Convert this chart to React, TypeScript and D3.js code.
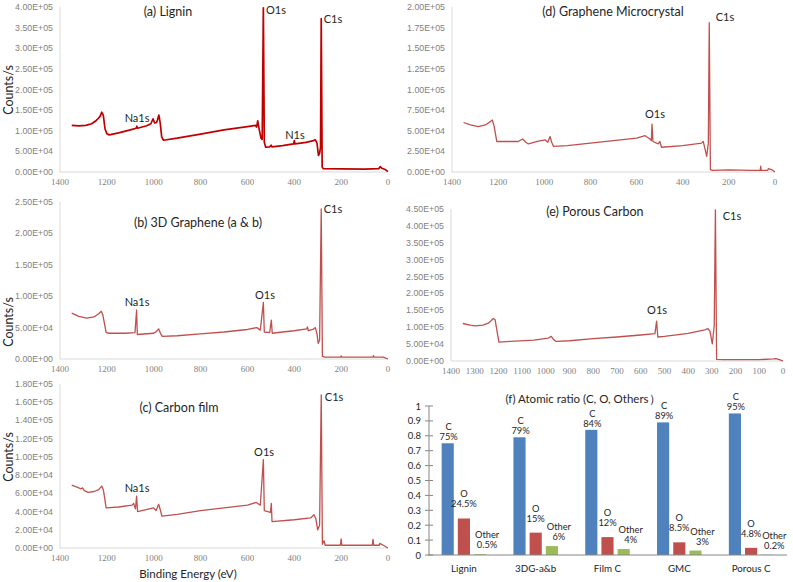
import React from 'react';
import * as d3 from 'd3';

type Pt = [number, number]; // [binding energy (eV), counts/s]

// ---- XPS survey spectra ----
const ligninSpectrum: Pt[] = [
  [1350, 113e3], [1320, 112e3], [1290, 113e3], [1265, 117e3], [1245, 125e3], [1235, 131e3],
  [1228, 136e3], [1222, 145e3], [1215, 137e3], [1208, 105e3], [1200, 93e3], [1190, 90e3],
  [1150, 95e3], [1100, 102e3], [1075, 106e3], [1072, 111e3], [1069, 106e3], [1030, 112e3],
  [1012, 117e3], [1003, 129e3], [996, 119e3], [988, 120e3], [984, 126e3], [978, 138e3],
  [972, 118e3], [966, 85e3], [958, 77e3], [900, 82e3], [800, 92e3], [700, 102e3], [600, 110e3],
  [566, 113e3], [561, 109e3], [556, 124e3], [550, 104e3], [542, 82e3], [537, 79e3], [532, 398e3],
  [528, 72e3], [522, 60e3], [505, 61e3], [499, 65e3], [495, 61e3], [450, 64e3], [403, 68e3],
  [400, 76e3], [397, 68e3], [350, 72e3], [318, 76e3], [310, 78e3], [303, 70e3], [297, 40e3],
  [292, 45e3], [288, 60e3], [285, 372e3], [281, 12e3], [276, 8e3], [200, 7.5e3], [100, 7e3],
  [40, 8e3], [33, 13e3], [26, 9e3], [12, 6e3], [0, 1e3],
];

const grapheneMcSpectrum: Pt[] = [
  [1350, 60e3], [1320, 57e3], [1286, 55e3], [1255, 57e3], [1235, 61e3], [1225, 63e3],
  [1217, 55e3], [1206, 37e3], [1150, 37e3], [1113, 37e3], [1094, 40e3], [1080, 36e3],
  [1069, 34e3], [1030, 37e3], [997, 39e3], [985, 36e3], [975, 43e3], [968, 36e3], [960, 31e3],
  [900, 32e3], [800, 35e3], [700, 38e3], [600, 41e3], [563, 44e3], [542, 40e3], [536, 38e3],
  [533, 58e3], [529, 37e3], [506, 34e3], [499, 37e3], [492, 30e3], [400, 32e3], [318, 35e3],
  [311, 37e3], [296, 19e3], [289, 35e3], [285, 181e3], [280, 3e3], [270, 2e3], [200, 2.5e3],
  [100, 2e3], [64, 2e3], [62, 7e3], [60, 2e3], [31, 2e3], [29, 4e3], [15, 3e3], [0, 0],
];

const graphene3dSpectrum: Pt[] = [
  [1350, 73e3], [1320, 68e3], [1286, 65e3], [1255, 67e3], [1235, 72e3], [1224, 76e3],
  [1217, 70e3], [1203, 42e3], [1190, 41e3], [1120, 41e3], [1080, 42e3], [1073, 78e3],
  [1070, 39e3], [1000, 41e3], [988, 44e3], [979, 48e3], [970, 40e3], [963, 36e3], [900, 37e3],
  [800, 40e3], [700, 43e3], [600, 47e3], [560, 50e3], [545, 46e3], [532, 90e3], [528, 43e3],
  [505, 42e3], [498, 62e3], [494, 41e3], [450, 43e3], [400, 45e3], [347, 48e3], [344, 51e3],
  [340, 45e3], [320, 47e3], [310, 50e3], [303, 40e3], [298, 25e3], [292, 30e3], [285, 239e3],
  [280, 4e3], [270, 3e3], [202, 3e3], [200, 5e3], [197, 3e3], [64, 3e3], [62, 5.5e3],
  [60, 3e3], [20, 3e3], [0, 0],
];

const porousCarbonSpectrum: Pt[] = [
  [1350, 111e3], [1320, 106e3], [1299, 104e3], [1265, 106e3], [1240, 113e3], [1222, 126e3],
  [1214, 122e3], [1198, 56e3], [1150, 58e3], [1050, 62e3], [990, 68e3], [977, 73e3],
  [968, 64e3], [957, 58e3], [900, 60e3], [800, 66e3], [700, 71e3], [600, 77e3], [540, 81e3],
  [533, 118e3], [528, 71e3], [500, 73e3], [400, 82e3], [330, 92e3], [316, 96e3], [308, 88e3],
  [298, 51e3], [290, 106e3], [285, 447e3], [280, 5e3], [250, 4e3], [100, 4e3], [40, 6e3],
  [30, 7e3], [15, 4e3], [0, 0],
];

const carbonFilmSpectrum: Pt[] = [
  [1350, 69e3], [1330, 67e3], [1310, 65e3], [1304, 66e3], [1296, 63e3], [1280, 61e3],
  [1255, 62e3], [1235, 64e3], [1222, 68e3], [1215, 64e3], [1203, 44e3], [1150, 45e3],
  [1092, 47e3], [1086, 49e3], [1078, 43e3], [1073, 57e3], [1069, 40e3], [1000, 44e3],
  [990, 41e3], [979, 48e3], [972, 42e3], [965, 35e3], [900, 37e3], [800, 41e3], [700, 44e3],
  [600, 47e3], [562, 50e3], [545, 47e3], [532, 97e3], [528, 41e3], [502, 39e3], [498, 49e3],
  [495, 29e3], [400, 31e3], [330, 33e3], [316, 36.5e3], [308, 32e3], [300, 20e3], [292, 25e3],
  [285, 168e3], [280, 4e3], [273, 8e3], [268, 3e3], [203, 3e3], [200, 10e3], [197, 3e3],
  [67, 3e3], [64, 9.5e3], [61, 3e3], [37, 3e3], [35, 5e3], [20, 3e3], [0, 0],
];

// ---- atomic ratio bar chart ----
const samples = ['Lignin', '3DG-a&b', 'Film C', 'GMC', 'Porous C'];
const carbonRatio = [0.75, 0.79, 0.84, 0.89, 0.95];
const oxygenRatio = [0.245, 0.15, 0.12, 0.085, 0.048];
const otherRatio = [0.005, 0.06, 0.04, 0.03, 0.002];
const ratioTicks = [0, 0.1, 0.2, 0.3, 0.4, 0.5, 0.6, 0.7, 0.8, 0.9, 1];

const W = 793;
const H = 582;
const SANS = 'Lato, "Open Sans", sans-serif';

function sci(v: number): string {
  if (v === 0) return '0.00E+00';
  const e = Math.floor(Math.log10(v) + 1e-9);
  const m = v / Math.pow(10, e);
  return `${m.toFixed(2)}E+${String(e).padStart(2, '0')}`;
}

type Note = { text: string; ev: number; c: number; size?: number };

type SpectrumProps = {
  data: Pt[];
  color: string;
  lineWidth: number;
  xPx: [number, number];
  yPx: [number, number];
  yMax: number;
  yStep: number;
  xStep: number;
  notes: Note[];
  yTitleY?: number;
};

function Spectrum({ data, color, lineWidth, xPx, yPx, yMax, yStep, xStep, notes, yTitleY }: SpectrumProps) {
  const x = d3.scaleLinear().domain([1400, 0]).range(xPx);
  const y = d3.scaleLinear().domain([0, yMax]).range(yPx);
  const line = d3.line<Pt>().x((d) => x(d[0])).y((d) => y(d[1]));
  const yTicks = d3.range(0, yMax + yStep / 2, yStep);
  const xTicks = d3.range(1400, -1, -xStep);
  return (
    <g>
      <line x1={xPx[0]} x2={xPx[0]} y1={yPx[0]} y2={yPx[1]} stroke="#d9d9d9" strokeWidth={1} />
      <line x1={xPx[0]} x2={xPx[1]} y1={yPx[0]} y2={yPx[0]} stroke="#d9d9d9" strokeWidth={1} />
      {yTicks.map((t) => (
        <text key={'y' + t} x={xPx[0] - 7} y={y(t)} textAnchor="end" dominantBaseline="central"
          fontFamily='"Liberation Sans", Arial, sans-serif' fontSize={8.8} fill="#7f7f7f">
          {sci(t)}
        </text>
      ))}
      {xTicks.map((t) => (
        <text key={'x' + t} x={x(t)} y={yPx[0] + 10} textAnchor="middle" dominantBaseline="central"
          fontFamily='"Liberation Serif", "Times New Roman", serif' fontSize={9} fill="#7f7f7f">
          {t}
        </text>
      ))}
      <path d={line(data) ?? ''} fill="none" stroke={color} strokeWidth={lineWidth} strokeLinejoin="round" />
      {notes.map((n) => (
        <text key={n.text} x={x(n.ev)} y={y(n.c)} textAnchor="middle" dominantBaseline="central"
          fontFamily={SANS} fontSize={n.size ?? 11} fill="#262626">
          {n.text}
        </text>
      ))}
      {yTitleY !== undefined && (
        <text transform={`translate(8,${yTitleY}) rotate(-90)`} textAnchor="middle" dominantBaseline="central"
          fontFamily={SANS} fontSize={12.5} fill="#262626">
          Counts/s
        </text>
      )}
    </g>
  );
}

function RatioBars() {
  const x0 = d3.scaleBand<string>().domain(samples).range([428, 787]).paddingInner(0.38).paddingOuter(0.19);
  const keys = ['C', 'O', 'Other'];
  const x1 = d3.scaleBand<string>().domain(keys).range([0, x0.bandwidth()]).paddingInner(0.25);
  const y = d3.scaleLinear().domain([0, 1]).range([555, 406]);
  const series = [
    { key: 'C', values: carbonRatio, color: '#4f81bd', lift: 7, shift: 1 },
    { key: 'O', values: oxygenRatio, color: '#c0504d', lift: 15, shift: 0 },
    { key: 'Other', values: otherRatio, color: '#9bbb59', lift: 10, shift: 7 },
  ];
  const pct = (v: number) => `${+(v * 100).toFixed(1)}%`;
  return (
    <g>
      {series.map((s) =>
        s.values.map((v, i) => {
          const bx = (x0(samples[i]) ?? 0) + (x1(s.key) ?? 0);
          const cx = bx + x1.bandwidth() / 2 + s.shift;
          const top = y(v);
          return (
            <g key={s.key + i}>
              <rect x={bx} y={top} width={x1.bandwidth()} height={y(0) - top} fill={s.color} />
              <text textAnchor="middle" dominantBaseline="central" fontFamily={SANS} fontSize={9.3} fill="#262626">
                <tspan x={cx} y={top - s.lift - 10}>{s.key}</tspan>
                <tspan x={cx} y={top - s.lift}>{pct(v)}</tspan>
              </text>
            </g>
          );
        })
      )}
      <line x1={429} x2={429} y1={y(0)} y2={y(1)} stroke="#868686" strokeWidth={1} />
      <line x1={428} x2={787} y1={y(0)} y2={y(0)} stroke="#868686" strokeWidth={1} />
      {ratioTicks.map((t) => (
        <g key={t}>
          <line x1={425} x2={433} y1={y(t)} y2={y(t)} stroke="#868686" strokeWidth={1} />
          <text x={421} y={y(t)} textAnchor="end" dominantBaseline="central" fontFamily={SANS}
            fontSize={9.5} fill="#262626">{t}</text>
        </g>
      ))}
      {samples.map((c) => (
        <text key={c} x={(x0(c) ?? 0) + x0.bandwidth() / 2} y={568} textAnchor="middle" dominantBaseline="central"
          fontFamily={SANS} fontSize={9.8} fill="#262626">{c}</text>
      ))}
      <text x={583} y={398} textAnchor="middle" dominantBaseline="central" fontFamily={SANS}
        fontSize={11.5} fill="#262626">(f) Atomic ratio (C, O, Others）</text>
    </g>
  );
}

export default function App() {
  return (
    <svg width={W} height={H} style={{ position: 'absolute', left: 0, top: 0, background: '#fff' }}>
      <rect width={W} height={H} fill="#fff" />
      <Spectrum data={ligninSpectrum} color="#c00000" lineWidth={1.7} xPx={[60, 388]} yPx={[172, 7]}
        yMax={4e5} yStep={5e4} xStep={200} yTitleY={90}
        notes={[
          { text: '(a) Lignin', ev: 939, c: 388e3, size: 12.5 },
          { text: 'O1s', ev: 478, c: 395e3 },
          { text: 'C1s', ev: 235, c: 371e3 },
          { text: 'Na1s', ev: 1071, c: 133e3 },
          { text: 'N1s', ev: 397, c: 90e3 },
        ]} />
      <Spectrum data={grapheneMcSpectrum} color="#c0504d" lineWidth={1.3} xPx={[452, 775]} yPx={[172, 7]}
        yMax={2e5} yStep={2.5e4} xStep={200}
        notes={[
          { text: '(d) Graphene Microcrystal', ev: 702, c: 194e3, size: 12.5 },
          { text: 'C1s', ev: 217, c: 188e3 },
          { text: 'O1s', ev: 520, c: 71.5e3 },
        ]} />
      <Spectrum data={graphene3dSpectrum} color="#c0504d" lineWidth={1.3} xPx={[60, 388]} yPx={[359, 202]}
        yMax={2.5e5} yStep={5e4} xStep={200} yTitleY={322}
        notes={[
          { text: '(b) 3D Graphene (a & b)', ev: 811, c: 218e3, size: 12.5 },
          { text: 'C1s', ev: 235, c: 239e3 },
          { text: 'Na1s', ev: 1071, c: 92e3 },
          { text: 'O1s', ev: 525, c: 102e3 },
        ]} />
      <Spectrum data={porousCarbonSpectrum} color="#c0504d" lineWidth={1.3} xPx={[451, 783]} yPx={[361, 209]}
        yMax={4.5e5} yStep={5e4} xStep={100}
        notes={[
          { text: '(e) Porous Carbon', ev: 793, c: 444e3, size: 12.5 },
          { text: 'C1s', ev: 215, c: 432e3 },
          { text: 'O1s', ev: 531, c: 151e3 },
        ]} />
      <Spectrum data={carbonFilmSpectrum} color="#c0504d" lineWidth={1.3} xPx={[60, 388]} yPx={[548, 384]}
        yMax={1.8e5} yStep={2e4} xStep={200} yTitleY={457}
        notes={[
          { text: '(c) Carbon film', ev: 892, c: 154e3, size: 12.5 },
          { text: 'C1s', ev: 230, c: 166e3 },
          { text: 'O1s', ev: 529, c: 106e3 },
          { text: 'Na1s', ev: 1071, c: 66e3 },
        ]} />
      <text x={188} y={573} textAnchor="middle" dominantBaseline="central" fontFamily={SANS} fontSize={11.5}
        fill="#262626">Binding Energy (eV)</text>
      <RatioBars />
    </svg>
  );
}
